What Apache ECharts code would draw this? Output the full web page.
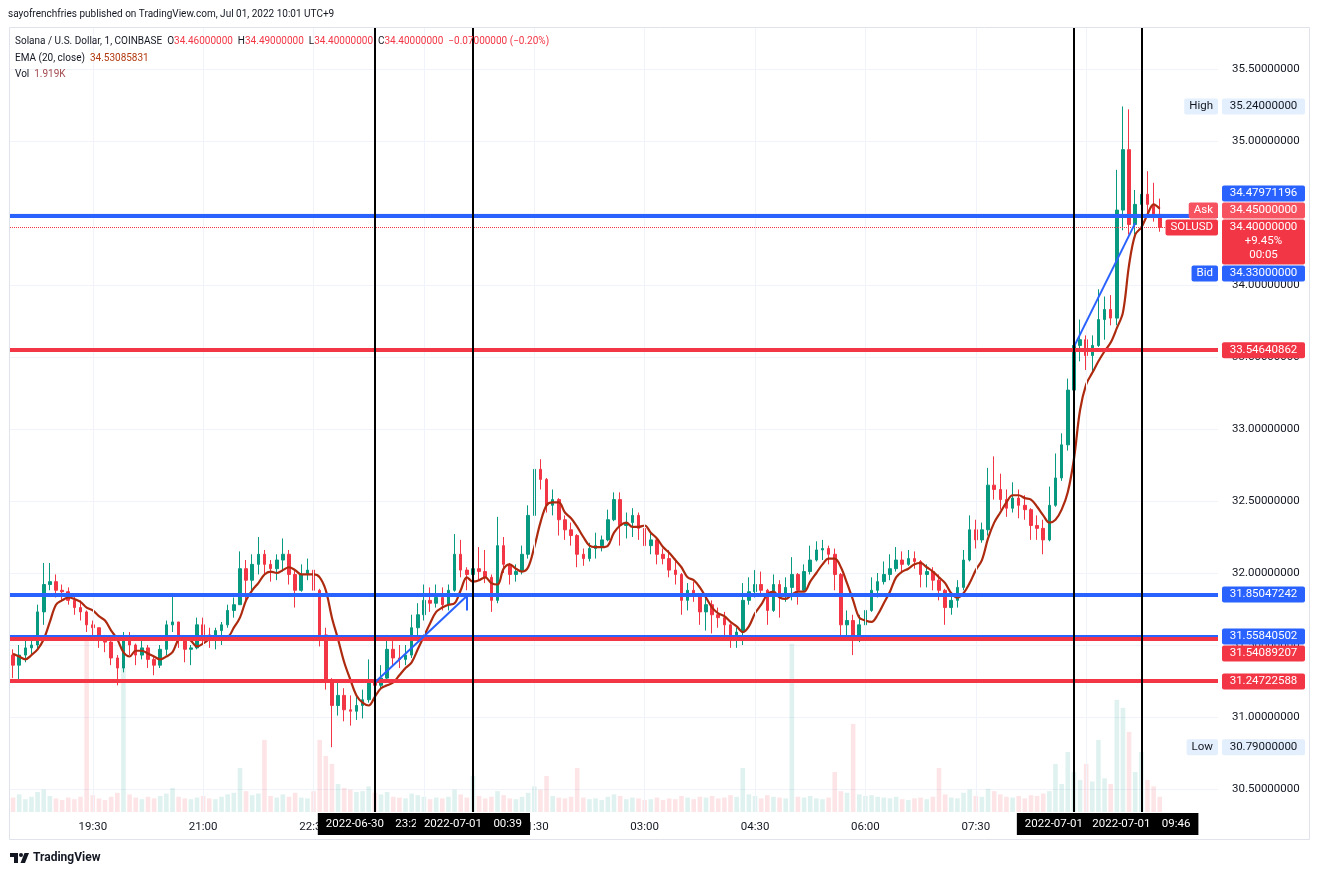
<!DOCTYPE html>
<html>
<head>
<meta charset="utf-8">
<script src="https://cdn.jsdelivr.net/npm/echarts@6/dist/echarts.min.js"></script>
<style>
html, body { margin: 0; padding: 0; background: #fff; }
#chart { width: 1320px; height: 876px; }
</style>
</head>
<body>
<div id="chart"></div>
<script>
// 5-minute slots from 18:25 (30 Jun) to 10:45 (1 Jul); price data ends at 10:00
var slotStart = '18:25', slotCount = 197;
var xTicks = ['19:30', '21:00', '22:30', '00:00', '01:30', '03:00', '04:30', '06:00', '07:30', '09:00'];
var yTicks = [30.5, 31, 31.5, 32, 32.5, 33, 33.5, 34, 34.5, 35, 35.5];
var yMin = 30.3403, yMax = 35.7917;

var opens = [
  31.43,31.36,31.43,31.48,31.50,31.73,31.92,31.94,31.88,31.87,
  31.81,31.76,31.73,31.64,31.62,31.54,31.52,31.41,31.34,31.54,
  31.50,31.43,31.48,31.40,31.36,31.47,31.64,31.66,31.54,31.47,
  31.48,31.64,31.57,31.54,31.60,31.64,31.74,31.78,32.03,31.95,
  32.06,32.13,32.06,32.03,32.09,32.13,31.99,31.88,31.99,32.02,
  31.88,31.57,31.26,31.08,31.15,31.05,31.04,31.08,31.12,31.26,
  31.22,31.27,31.47,31.41,31.40,31.43,31.62,31.71,31.81,31.79,
  31.83,31.78,31.88,32.13,32.02,31.99,32.03,32.01,31.97,31.81,
  32.19,32.06,31.99,32.01,32.13,32.40,32.72,32.65,32.47,32.51,
  32.37,32.30,32.26,32.13,32.10,32.17,32.19,32.23,32.37,32.51,
  32.33,32.35,32.40,32.31,32.19,32.23,32.13,32.10,32.02,31.99,
  31.81,31.88,31.85,31.73,31.78,31.71,31.69,31.64,31.57,31.59,
  31.81,31.87,31.92,31.88,31.74,31.92,31.85,31.90,31.99,31.88,
  32.01,32.09,32.16,32.17,32.13,31.99,31.64,31.67,31.57,31.64,
  31.74,31.88,31.94,31.99,32.03,32.09,32.06,32.10,32.08,31.99,
  32.01,31.95,31.88,31.76,31.81,31.90,32.09,32.30,32.23,32.30,
  32.61,32.58,32.51,32.45,32.52,32.47,32.44,32.33,32.31,32.23,
  32.47,32.66,32.89,33.27,33.58,33.62,33.51,33.58,33.76,33.83,
  33.77,34.52,34.94,34.42,34.56,34.63,34.56,34.49
];
var closes = [
  31.36,31.43,31.48,31.50,31.73,31.92,31.94,31.88,31.87,31.81,
  31.76,31.73,31.64,31.62,31.54,31.52,31.41,31.34,31.54,31.50,
  31.43,31.48,31.40,31.36,31.47,31.64,31.66,31.54,31.47,31.48,
  31.64,31.57,31.54,31.60,31.64,31.74,31.78,32.03,31.95,32.06,
  32.13,32.06,32.03,32.09,32.13,31.99,31.88,31.99,32.02,31.88,
  31.57,31.26,31.08,31.15,31.05,31.04,31.08,31.12,31.26,31.22,
  31.27,31.47,31.41,31.40,31.43,31.62,31.71,31.81,31.79,31.83,
  31.78,31.88,32.13,32.02,31.99,32.03,32.01,31.97,31.81,32.19,
  32.06,31.99,32.01,32.13,32.40,32.72,32.65,32.47,32.51,32.37,
  32.30,32.26,32.13,32.10,32.17,32.19,32.23,32.37,32.51,32.33,
  32.35,32.40,32.31,32.19,32.23,32.13,32.10,32.02,31.99,31.81,
  31.88,31.85,31.73,31.78,31.71,31.69,31.64,31.57,31.59,31.81,
  31.87,31.92,31.88,31.74,31.92,31.85,31.90,31.99,31.88,32.01,
  32.09,32.16,32.17,32.13,31.99,31.64,31.67,31.57,31.64,31.74,
  31.88,31.94,31.99,32.03,32.09,32.06,32.10,32.08,31.99,32.01,
  31.95,31.88,31.76,31.81,31.90,32.09,32.30,32.23,32.30,32.61,
  32.58,32.51,32.45,32.52,32.47,32.44,32.33,32.31,32.23,32.47,
  32.66,32.89,33.27,33.58,33.62,33.51,33.58,33.76,33.83,33.77,
  34.52,34.94,34.42,34.56,34.63,34.56,34.49,34.40
];
var lows = [
  31.27,31.24,31.38,31.43,31.47,31.64,31.88,31.83,31.81,31.78,
  31.71,31.67,31.59,31.56,31.48,31.45,31.36,31.22,31.31,31.43,
  31.36,31.40,31.34,31.29,31.34,31.43,31.59,31.48,31.38,31.36,
  31.47,31.50,31.48,31.47,31.50,31.62,31.69,31.78,31.81,31.88,
  31.99,31.99,31.94,31.95,32.01,31.92,31.76,31.87,31.95,31.83,
  31.49,31.19,30.79,31.01,30.97,30.94,30.98,30.99,31.10,31.17,
  31.19,31.24,31.36,31.34,31.36,31.41,31.55,31.67,31.73,31.76,
  31.74,31.74,31.87,31.97,31.88,31.92,31.95,31.93,31.73,31.79,
  32.00,31.92,31.94,31.99,32.10,32.39,32.58,32.42,32.40,32.26,
  32.23,32.19,32.04,32.05,32.08,32.10,32.15,32.22,32.36,32.19,
  32.24,32.25,32.23,32.14,32.13,32.06,32.06,31.97,31.92,31.71,
  31.74,31.80,31.64,31.60,31.58,31.62,31.56,31.48,31.48,31.50,
  31.78,31.83,31.85,31.64,31.73,31.69,31.80,31.81,31.78,31.87,
  31.99,32.08,32.09,32.06,31.88,31.56,31.54,31.43,31.52,31.62,
  31.73,31.83,31.92,31.95,32.01,32.01,32.05,32.03,31.90,31.90,
  31.88,31.81,31.64,31.71,31.76,31.88,32.08,32.17,32.21,32.26,
  32.51,32.44,32.39,32.42,32.38,32.37,32.23,32.23,32.13,32.22,
  32.46,32.64,32.85,33.24,33.47,33.41,33.40,33.57,33.62,33.72,
  33.72,34.38,34.35,34.35,34.40,34.49,34.44,34.37
];
var highs = [
  31.47,31.50,31.55,31.54,31.78,32.07,32.07,31.99,31.92,31.90,
  31.85,31.81,31.74,31.67,31.62,31.57,31.54,31.43,31.59,31.59,
  31.51,31.54,31.50,31.42,31.50,31.67,31.84,31.66,31.55,31.50,
  31.69,31.69,31.62,31.62,31.66,31.78,31.83,32.15,32.09,32.13,
  32.25,32.16,32.09,32.13,32.24,32.16,32.02,32.06,32.10,32.14,
  31.89,31.62,31.27,31.26,31.20,31.15,31.15,31.19,31.40,31.38,
  31.36,31.57,31.54,31.50,31.50,31.71,31.79,31.92,31.90,31.92,
  31.90,31.92,32.27,32.23,32.04,32.13,32.18,32.16,31.99,32.39,
  32.25,32.07,32.06,32.19,32.47,32.81,32.79,32.66,32.58,32.52,
  32.40,32.35,32.27,32.17,32.21,32.28,32.26,32.44,32.56,32.56,
  32.42,32.45,32.42,32.33,32.28,32.24,32.17,32.16,32.10,32.00,
  31.93,31.94,31.86,31.83,31.81,31.76,31.73,31.65,31.62,31.93,
  31.97,32.02,32.01,31.89,31.99,31.95,31.97,32.11,32.00,32.06,
  32.19,32.22,32.23,32.19,32.17,32.00,31.74,31.71,31.71,31.81,
  31.97,32.00,32.08,32.13,32.18,32.15,32.16,32.15,32.09,32.06,
  32.04,31.99,31.89,31.85,31.95,32.16,32.40,32.37,32.35,32.73,
  32.81,32.69,32.58,32.63,32.58,32.54,32.45,32.40,32.37,32.60,
  32.83,32.97,33.35,33.88,33.76,33.65,33.65,33.97,33.92,33.93,
  34.80,35.24,35.22,34.66,34.75,34.79,34.71,34.60
];
var ema20 = [
  31.44,31.42,31.40,31.43,31.47,31.54,31.66,31.78,31.81,31.83,
  31.82,31.80,31.76,31.74,31.70,31.67,31.60,31.54,31.45,31.42,
  31.46,31.46,31.44,31.42,31.40,31.42,31.45,31.54,31.56,31.53,
  31.49,31.51,31.54,31.56,31.56,31.56,31.62,31.69,31.81,31.88,
  31.93,31.99,32.01,32.00,32.02,32.04,32.02,31.99,31.99,31.99,
  31.97,31.88,31.69,31.54,31.38,31.26,31.15,31.10,31.08,31.14,
  31.20,31.22,31.24,31.29,31.34,31.38,31.47,31.56,31.65,31.73,
  31.76,31.78,31.79,31.88,31.97,31.94,31.95,31.97,31.93,31.92,
  32.03,32.06,32.03,32.01,32.04,32.18,32.35,32.47,32.49,32.49,
  32.42,32.38,32.32,32.25,32.19,32.18,32.18,32.19,32.28,32.33,
  32.35,32.32,32.32,32.33,32.28,32.24,32.18,32.14,32.09,32.04,
  31.97,31.95,31.90,31.83,31.76,31.72,31.70,31.66,31.63,31.59,
  31.63,31.72,31.78,31.85,31.87,31.83,31.82,31.85,31.87,31.87,
  31.94,32.00,32.06,32.10,32.10,32.04,31.93,31.81,31.69,31.67,
  31.66,31.71,31.79,31.87,31.97,32.01,32.03,32.06,32.07,32.04,
  32.01,31.97,31.93,31.86,31.83,31.86,31.93,32.02,32.09,32.24,
  32.35,32.42,32.49,32.54,32.54,32.52,32.51,32.46,32.40,32.35,
  32.37,32.44,32.56,32.79,33.13,33.31,33.39,33.47,33.54,33.60,
  33.70,33.81,34.14,34.35,34.40,34.49,34.56,34.53
];
// volume in thousands of SOL
var volumes = [
  1.8,2.2,1.6,1.9,2.5,2.8,2.0,1.7,1.5,1.8,
  1.6,1.9,22,2.1,1.7,1.5,1.9,2.4,18,2.2,
  1.8,1.6,1.9,1.7,2.0,2.3,3.0,1.9,1.7,1.6,
  1.8,2.0,1.7,1.6,1.9,2.2,2.4,5.5,2.6,2.1,
  2.3,9.0,2.0,1.8,2.2,1.9,2.4,1.8,1.7,2.6,
  9.0,7.0,6.0,3.5,3.0,2.8,2.5,2.6,3.2,2.4,
  2.2,2.5,1.9,1.8,1.7,2.3,2.1,1.9,1.6,1.8,
  1.7,1.9,2.8,2.2,1.8,4.5,2.0,1.7,1.9,2.6,
  2.1,1.7,1.6,1.9,2.4,3.2,2.8,4.5,2.0,1.8,
  1.7,1.9,5.5,1.8,1.6,1.7,1.5,1.9,2.2,2.0,
  1.6,1.8,1.7,1.5,1.6,1.8,1.5,1.7,1.6,2.0,
  1.8,1.6,1.9,1.8,2.0,1.7,1.8,2.1,1.9,5.5,
  2.2,2.0,1.7,2.1,1.9,1.8,1.7,21,1.9,1.8,
  2.0,1.7,1.6,1.8,5.0,2.6,2.4,11,2.2,2.0,
  2.1,1.9,1.8,1.7,1.9,1.6,1.5,1.7,1.8,1.6,
  1.9,5.5,2.2,1.8,1.7,2.4,2.8,2.0,1.9,2.9,
  2.6,2.2,1.9,1.8,2.0,1.7,2.1,2.0,2.3,2.6,
  6.0,3.5,7.5,5.0,4.0,6.0,3.8,9.0,4.2,3.5,
  14,13,10,5.0,7.5,4.0,3.2,1.9
];
var volMax = 98;

// drawn levels
var blueLevels = [34.47971196, 31.85047242, 31.55840502];
var redLevels = [33.54640862, 31.54089207, 31.24722588];
// vertical date markers
var markerTimes = ['23:20', '00:40', '08:50', '09:45'];
var markerLabels = ['2022-06-30    23:21', '2022-07-01    00:39', '2022-07-01    08:49', '2022-07-01    09:46'];
// trend line drawings [time, price] -> [time, price]
var trendLines = [
  [['23:20', 31.24], ['00:35', 31.84]],
  [['00:35', 31.84], ['00:35', 31.74]],
  [['08:50', 33.57], ['09:40', 34.43]]
];
var lastPrice = 34.40, askPrice = 34.45, bidPrice = 34.33;
var highPrice = 35.24, lowPrice = 30.79;
var changePct = '+9.45%', countdown = '00:05';

var UP = '#089981', DOWN = '#f23645', BLUE = '#2962ff', TEXT = '#131722';
var FONT = 'Roboto, "Liberation Sans", sans-serif';

function pad(n) { return (n < 10 ? '0' : '') + n; }
var slots = [];
var t0 = parseInt(slotStart.slice(0, 2), 10) * 60 + parseInt(slotStart.slice(3), 10);
for (var k = 0; k < slotCount; k++) {
  var m = (t0 + 5 * k) % 1440;
  slots.push(pad(Math.floor(m / 60)) + ':' + pad(m % 60));
}

var candles = opens.map(function (o, i) { return [o, closes[i], lows[i], highs[i]]; });
var volData = volumes.map(function (v, i) {
  return { value: v, itemStyle: { color: closes[i] >= opens[i] ? 'rgba(8,153,129,0.13)' : 'rgba(242,54,69,0.13)' } };
});
var empty = slots.map(function () { return null; });

var chart = echarts.init(document.getElementById('chart'));

var option = {
  animation: false,
  backgroundColor: '#fff',
  grid: { left: 10, right: 102, top: 27, height: 785 },
  xAxis: {
    type: 'category', data: slots, boundaryGap: true,
    axisLine: { show: false }, axisTick: { show: false }, splitLine: { show: false },
    axisLabel: {
      interval: function (i, v) { return xTicks.indexOf(v) >= 0; },
      color: TEXT, fontSize: 11.5, fontFamily: FONT, margin: 9
    }
  },
  yAxis: [{
    type: 'value', position: 'right', min: yMin, max: yMax,
    axisLine: { show: false },
    axisTick: { show: false, customValues: yTicks },
    axisLabel: {
      customValues: yTicks, color: TEXT, fontSize: 11.5, fontFamily: FONT, margin: 14,
      formatter: function (v) { return v.toFixed(8); }
    },
    splitLine: { show: true, lineStyle: { color: '#f0f3fa', width: 1 } }
  }, {
    type: 'value', min: 0, max: volMax, show: false
  }],
  series: [
    {
      name: 'grid', type: 'line', data: empty, z: 0, silent: true, symbol: 'none',
      markLine: {
        silent: true, symbol: 'none', label: { show: false },
        lineStyle: { color: '#f0f3fa', width: 1, type: 'solid' },
        data: xTicks.map(function (t) { return { xAxis: t }; })
      }
    },
    {
      name: 'Vol', type: 'bar', yAxisIndex: 1, data: volData, barWidth: '75%', z: 1, silent: true
    },
    {
      name: 'SOLUSD', type: 'candlestick', data: candles, barWidth: '50%', z: 2,
      itemStyle: { color: UP, color0: DOWN, borderColor: UP, borderColor0: DOWN, borderWidth: 1 }
    },
    {
      name: 'EMA', type: 'line', data: ema20, z: 3, symbol: 'none', smooth: 0.35,
      lineStyle: { color: '#ad2a0f', width: 2.2 }
    },
    {
      name: 'levels', type: 'line', data: empty, z: 4, silent: true, symbol: 'none',
      markLine: {
        silent: true, symbol: 'none', label: { show: false },
        data: blueLevels.map(function (v) { return { yAxis: v, lineStyle: { color: BLUE, width: 4, type: 'solid' } }; })
          .concat(redLevels.map(function (v) { return { yAxis: v, lineStyle: { color: DOWN, width: 4, type: 'solid' } }; }))
          .concat([{ yAxis: lastPrice, lineStyle: { color: DOWN, width: 1, type: 'dotted' } }])
      }
    },
    {
      name: 'trend', type: 'line', data: empty, z: 5, silent: true, symbol: 'none',
      markLine: {
        silent: true, symbol: 'none', label: { show: false },
        lineStyle: { color: BLUE, width: 2, type: 'solid' },
        data: trendLines.map(function (seg) { return [{ coord: seg[0] }, { coord: seg[1] }]; })
      }
    },
    {
      name: 'markers', type: 'line', data: empty, z: 6, silent: true, symbol: 'none',
      markLine: {
        silent: true, symbol: 'none',
        lineStyle: { color: '#000', width: 2, type: 'solid' },
        label: {
          show: true, position: 'start', distance: 1,
          formatter: function (p) { return p.name; },
          backgroundColor: '#000', color: '#fff', padding: [5, 8],
          fontSize: 11.5, fontFamily: FONT
        },
        data: markerTimes.map(function (t, i) { return { xAxis: t, name: markerLabels[i] }; })
      }
    }
  ]
};
chart.setOption(option);

// ---- right price scale tags, legend and frame ----
function priceY(v) { return chart.convertToPixel({ yAxisIndex: 0 }, v); }
var BOX_L = 1222, BOX_W = 83, TAG_R = 1218;
var g = [];
function valueBox(yc, lines, bg, fg) {
  var h = 16 + (lines.length - 1) * 14 + (lines.length > 1 ? 1 : 0);
  g.push({ type: 'rect', z: 100, shape: { x: BOX_L, y: yc - 8, width: BOX_W, height: h, r: 2 }, style: { fill: bg } });
  lines.forEach(function (s, j) {
    g.push({ type: 'text', z: 101, style: { text: s, x: BOX_L + BOX_W / 2, y: yc + j * 14, align: 'center', verticalAlign: 'middle', fill: fg, font: '11.5px ' + FONT } });
  });
}
function tag(yc, s, bg, fg) {
  g.push({ type: 'text', z: 101, style: {
    text: s, x: TAG_R, y: yc, align: 'right', verticalAlign: 'middle', fill: fg,
    font: '11.5px ' + FONT, backgroundColor: bg, padding: [2, 5, 2, 5], borderRadius: 2
  } });
}

var ySol = priceY(lastPrice);
var yAsk = ySol - 17, yBlueTop = yAsk - 17, yBid = ySol + 46;
valueBox(priceY(highPrice), [highPrice.toFixed(8)], '#e3effd', TEXT); tag(priceY(highPrice), 'High', '#e3effd', TEXT);
valueBox(priceY(lowPrice), [lowPrice.toFixed(8)], '#e3effd', TEXT); tag(priceY(lowPrice), 'Low', '#e3effd', TEXT);
valueBox(yBlueTop, [blueLevels[0].toFixed(8)], BLUE, '#fff');
valueBox(yAsk, [askPrice.toFixed(8)], '#f7525f', '#fff'); tag(yAsk, 'Ask', '#f7525f', '#fff');
valueBox(ySol, [lastPrice.toFixed(8), changePct, countdown], DOWN, '#fff'); tag(ySol, 'SOLUSD', DOWN, '#fff');
valueBox(yBid, [bidPrice.toFixed(8)], BLUE, '#fff'); tag(yBid, 'Bid', BLUE, '#fff');
valueBox(priceY(redLevels[0]), [redLevels[0].toFixed(8)], DOWN, '#fff');
valueBox(priceY(blueLevels[1]), [blueLevels[1].toFixed(8)], BLUE, '#fff');
var yB2 = priceY(blueLevels[2]);
valueBox(yB2, [blueLevels[2].toFixed(8)], BLUE, '#fff');
valueBox(yB2 + 17, [redLevels[1].toFixed(8)], DOWN, '#fff');
valueBox(priceY(redLevels[2]), [redLevels[2].toFixed(8)], DOWN, '#fff');

// frame
g.push({ type: 'rect', z: 50, shape: { x: 9.5, y: 27.5, width: 1300, height: 812 }, style: { fill: 'none', stroke: '#e0e3eb', lineWidth: 1 } });

// header + legend
var LF = '10px ' + FONT;
var rich = { l: { fill: TEXT, font: LF }, v: { fill: DOWN, font: LF }, e: { fill: '#b23a10', font: LF }, q: { fill: '#a34a50', font: LF } };
function legendLine(y, text) {
  g.push({ type: 'text', z: 101, style: { x: 15, y: y, verticalAlign: 'middle', font: LF, text: text, rich: rich } });
}
g.push({ type: 'text', z: 101, style: { text: 'sayofrenchfries published on TradingView.com, Jul 01, 2022 10:01 UTC+9', x: 8, y: 14, verticalAlign: 'middle', fill: TEXT, font: LF } });
legendLine(41, '{l|Solana / U.S. Dollar, 1, COINBASE  O}{v|34.46000000}{l|  H}{v|34.49000000}{l|  L}{v|34.40000000}{l|  C}{v|34.40000000}{l|  }{v|\u22120.07000000 (\u22120.20%)}');
legendLine(58, '{l|EMA (20, close)  }{e|34.53085831}');
legendLine(74, '{l|Vol  }{q|1.919K}');

// footer logo
g.push({ type: 'polygon', z: 101, shape: { points: [[10, 853], [18, 853], [18, 863], [14, 863], [14, 857], [10, 857]] }, style: { fill: TEXT } });
g.push({ type: 'circle', z: 101, shape: { cx: 21, cy: 855, r: 2 }, style: { fill: TEXT } });
g.push({ type: 'polygon', z: 101, shape: { points: [[24.5, 853], [29, 853], [25, 863], [20.5, 863]] }, style: { fill: TEXT } });
g.push({ type: 'text', z: 101, style: { text: 'TradingView', x: 33, y: 858, verticalAlign: 'middle', fill: TEXT, font: 'bold 12px ' + FONT } });

chart.setOption({ graphic: g });
window.addEventListener('resize', chart.resize);
</script>
</body>
</html>
